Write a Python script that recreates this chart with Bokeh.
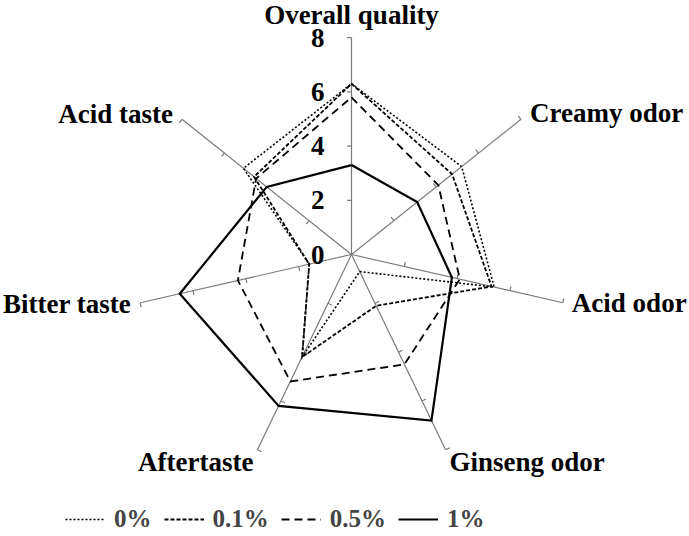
import numpy as np
from bokeh.plotting import figure
from bokeh.models import Legend, LegendItem
from bokeh.core.properties import value
from bokeh.embed import file_html
from bokeh.resources import INLINE

# ---- data ----
categories = ["Overall quality", "Creamy odor", "Acid odor", "Ginseng odor",
              "Aftertaste", "Bitter taste", "Acid taste"]
series_names = ["0%", "0.1%", "0.5%", "1%"]
vals_0 = [6.3, 5.2, 5.4, 0.7, 4.2, 1.6, 5.1]
vals_01 = [6.3, 4.75, 5.3, 2.1, 4.2, 1.6, 4.6]
vals_05 = [5.8, 4.1, 4.1, 4.5, 5.2, 4.3, 4.5]
vals_1 = [3.3, 3.1, 3.8, 6.8, 6.2, 6.5, 4.0]
tick_values = [0, 2, 4, 6, 8]
r_max = 8

# ---- layout ----
W, H = 689, 536
PX = 27.1          # pixels per unit
cx, cy = 351, 254  # centre (px from top-left)
FONT = value("Liberation Serif")

p = figure(width=W, height=H,
           x_range=(-cx / PX, (W - cx) / PX),
           y_range=(-(H - cy) / PX, cy / PX),
           x_axis_type=None, y_axis_type=None,
           output_backend="svg", toolbar_location=None,
           min_border=0, outline_line_color=None)
p.grid.visible = False

n = len(categories)
theta = np.pi / 2 - 2 * np.pi * np.arange(n) / n
cos_t, sin_t = np.cos(theta), np.sin(theta)

# spokes
p.segment(x0=np.zeros(n), y0=np.zeros(n), x1=r_max * cos_t, y1=r_max * sin_t,
          line_color="#7a7a7a", line_width=1.2)

# tick marks on every spoke
L = 4.5 / PX
tx0, ty0, tx1, ty1 = [], [], [], []
for k in range(n):
    for t in tick_values[1:]:
        bx, by = t * cos_t[k], t * sin_t[k]
        tx0.append(bx); ty0.append(by)
        tx1.append(bx - L * sin_t[k]); ty1.append(by + L * cos_t[k])
p.segment(x0=tx0, y0=ty0, x1=tx1, y1=ty1, line_color="#7a7a7a", line_width=1.2)

# tick labels on the top spoke
p.text(x=[0] * len(tick_values), y=tick_values, text=[str(t) for t in tick_values],
       x_offset=-27, text_align="right", text_baseline="middle",
       text_font=FONT, text_font_style="bold", text_font_size="27px", text_color="black")

# series
styles = [dict(line_dash="2 2", line_width=1.6),
          dict(line_dash="4 2", line_width=1.8),
          dict(line_dash="8 5", line_width=1.8),
          dict(line_dash="solid", line_width=2.2)]
renderers = []
for vals, st in zip([vals_0, vals_01, vals_05, vals_1], styles):
    v = np.array(vals + vals[:1])
    ang_c = np.concatenate([theta, theta[:1]])
    r = p.line(x=v * np.cos(ang_c), y=v * np.sin(ang_c), line_color="black",
               line_join="miter", **st)
    renderers.append(r)

# category labels
label_style = [
    dict(text_align="center", text_baseline="alphabetic", x_offset=0, y_offset=-23),
    dict(text_align="left", text_baseline="alphabetic", x_offset=9, y_offset=-6),
    dict(text_align="left", text_baseline="alphabetic", x_offset=9, y_offset=0),
    dict(text_align="left", text_baseline="alphabetic", x_offset=4, y_offset=12),
    dict(text_align="right", text_baseline="alphabetic", x_offset=-4, y_offset=12),
    dict(text_align="right", text_baseline="alphabetic", x_offset=-9, y_offset=1),
    dict(text_align="right", text_baseline="alphabetic", x_offset=-9, y_offset=-5),
]
for k in range(n):
    p.text(x=[r_max * cos_t[k]], y=[r_max * sin_t[k]], text=[categories[k]],
           text_font=FONT, text_font_style="bold", text_font_size="27px",
           text_color="black", **label_style[k])

legend = Legend(items=[LegendItem(label=nm, renderers=[r]) for nm, r in zip(series_names, renderers)],
                orientation="horizontal", location=(65, 3),
                glyph_width=40, glyph_height=24, label_height=24, label_standoff=9,
                spacing=12, padding=0, margin=0,
                border_line_color=None, background_fill_alpha=0,
                label_text_font="Liberation Serif", label_text_font_style="bold",
                label_text_font_size="25px", label_text_baseline="middle")
p.add_layout(legend, "center")

open("out.html", "w").write(file_html(p, INLINE))
